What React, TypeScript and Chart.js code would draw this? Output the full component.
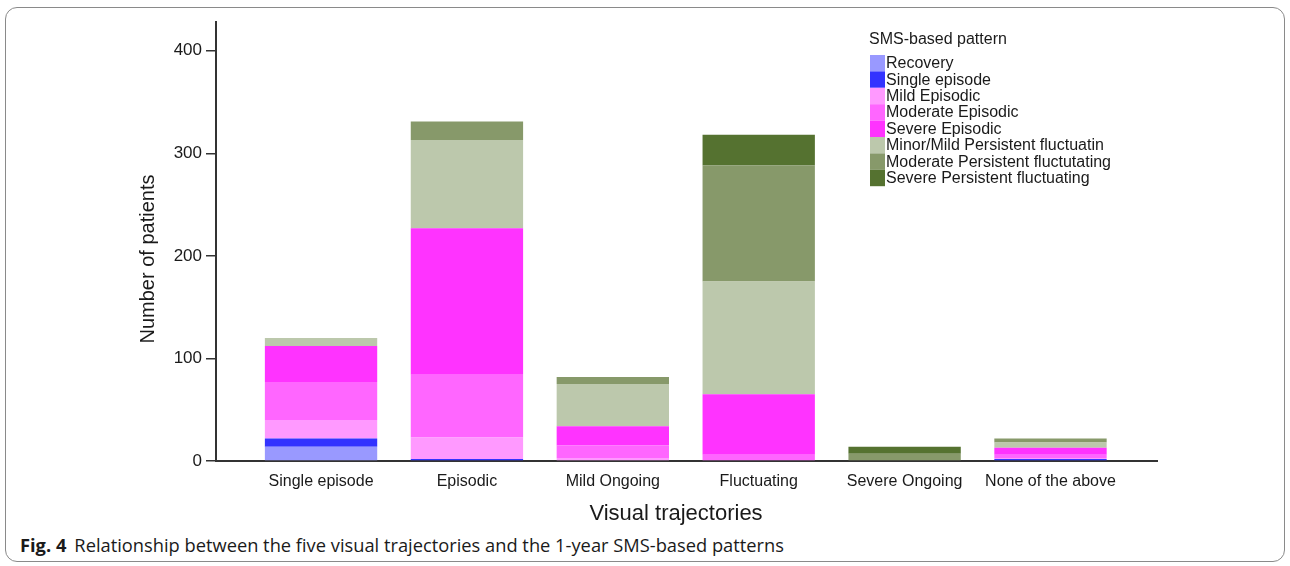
import React, { useEffect, useRef } from "react";
import { Chart, registerables } from "chart.js";

Chart.register(...registerables);

const categories = ["Single episode", "Episodic", "Mild Ongoing", "Fluctuating", "Severe Ongoing", "None of the above"];
const seriesLabels = [
  "Recovery",
  "Single episode",
  "Mild Episodic",
  "Moderate Episodic",
  "Severe Episodic",
  "Minor/Mild Persistent fluctuatin",
  "Moderate Persistent fluctutating",
  "Severe Persistent fluctuating",
];
const seriesColors = ["#9999FF", "#3333FF", "#FF99FF", "#FF66FF", "#FF33FF", "#BCC8AC", "#87996A", "#557230"];

const recovery = [14, 0, 0, 0, 0, 0];
const singleEpisode = [8, 2, 0, 0, 0, 2];
const mildEpisodic = [18, 21, 3, 0, 0, 1];
const moderateEpisodic = [37, 61, 12, 6, 0, 3];
const severeEpisodic = [35, 143, 19, 59, 0, 7];
const minorPersistent = [8, 86, 41, 110, 0, 5];
const moderatePersistent = [0, 18, 7, 113, 7, 4];
const severePersistent = [0, 0, 0, 30, 7, 0];
const seriesValues = [recovery, singleEpisode, mildEpisodic, moderateEpisodic, severeEpisodic, minorPersistent, moderatePersistent, severePersistent];

const legendTitle = "SMS-based pattern";
const xTitle = "Visual trajectories";
const yTitle = "Number of patients";

const FONT = "'Liberation Sans', Arial, sans-serif";
const TEXT = "#1a1a1a";

const annotationPlugin = {
  id: "stackLegendAndTitles",
  afterDraw(chart: any) {
    const ctx = chart.ctx;
    ctx.save();
    ctx.fillStyle = TEXT;
    ctx.textBaseline = "middle";
    ctx.textAlign = "left";
    ctx.font = `16px ${FONT}`;
    ctx.fillText(legendTitle, 869, 40);
    const x0 = 870;
    const y0 = 55;
    const h = 16.4;
    chart.data.datasets.forEach((ds: any, i: number) => {
      ctx.fillStyle = ds.backgroundColor;
      ctx.fillRect(x0, y0 + i * h, 15, h);
      ctx.fillStyle = TEXT;
      ctx.fillText(ds.label, x0 + 16, y0 + i * h + h / 2 + 0.5);
    });

    ctx.font = `22px ${FONT}`;
    ctx.textAlign = "center";
    ctx.fillText(xTitle, 676, 514);
    ctx.font = `20px ${FONT}`;
    ctx.translate(148, 259);
    ctx.rotate(-Math.PI / 2);
    ctx.fillText(yTitle, 0, 0);
    ctx.restore();
  },
};

export default function App() {
  const ref = useRef<HTMLCanvasElement>(null);

  useEffect(() => {
    if (!ref.current) return;
    const chart = new Chart(ref.current, {
      type: "bar",
      data: {
        datasets: seriesLabels.map((label, i) => ({
          label,
          data: seriesValues[i].map((v, j) => ({ x: j, y: v })),
          backgroundColor: seriesColors[i],
          borderWidth: 0,
          categoryPercentage: 1,
          barPercentage: 0.77,
        })),
      },
      options: {
        animation: false,
        responsive: false,
        maintainAspectRatio: false,
        layout: { padding: { left: 134, right: 133, top: 22, bottom: 0 } },
        plugins: {
          legend: { display: false },
          tooltip: { enabled: false },
        },
        scales: {
          x: {
            type: "linear",
            stacked: true,
            offset: false,
            min: -0.72,
            max: 5.73,
            afterFit: (s: any) => {
              s.height = 69;
            },
            grid: { display: true, drawOnChartArea: false, drawTicks: false, offset: false },
            border: { display: true, color: "#333", width: 2 },
            ticks: {
              stepSize: 1,
              includeBounds: false,
              autoSkip: false,
              maxRotation: 0,
              padding: 11,
              color: TEXT,
              font: { family: FONT, size: 16 },
              callback: (v: any) => (Number.isInteger(v) && v >= 0 && v < categories.length ? categories[v] : ""),
            },
            title: { display: false },
          },
          y: {
            stacked: true,
            min: 0,
            max: 428,
            afterFit: (s: any) => {
              s.width = 82;
            },
            grid: { display: true, drawOnChartArea: false, drawTicks: true, tickLength: 10, color: "#333", lineWidth: 1.5 },
            border: { display: true, color: "#333", width: 2 },
            ticks: {
              stepSize: 100,
              includeBounds: false,
              padding: 4,
              color: TEXT,
              font: { family: FONT, size: 17 },
            },
            title: { display: false },
          },
        },
      },
      plugins: [annotationPlugin],
    } as any);
    return () => chart.destroy();
  }, []);

  return (
    <div style={{ position: "fixed", left: 0, top: 0, width: 1290, height: 566, background: "#fff" }}>
      <div
        style={{
          position: "absolute",
          left: 5,
          top: 7,
          width: 1280,
          height: 555,
          boxSizing: "border-box",
          border: "1px solid #8a8a8a",
          borderRadius: 12,
        }}
      />
      <canvas ref={ref} width={1290} height={530} style={{ position: "absolute", left: 0, top: 0, width: 1290, height: 530 }} />
      <div
        style={{
          position: "absolute",
          left: 20,
          top: 533,
          fontFamily: "'Open Sans', 'Noto Sans', sans-serif",
          fontSize: 18.3,
          color: TEXT,
          whiteSpace: "nowrap",
          lineHeight: "24px",
        }}
      >
        <b>Fig. 4</b>
        <span style={{ marginLeft: 8 }}>Relationship between the five visual trajectories and the 1-year SMS-based patterns</span>
      </div>
    </div>
  );
}
